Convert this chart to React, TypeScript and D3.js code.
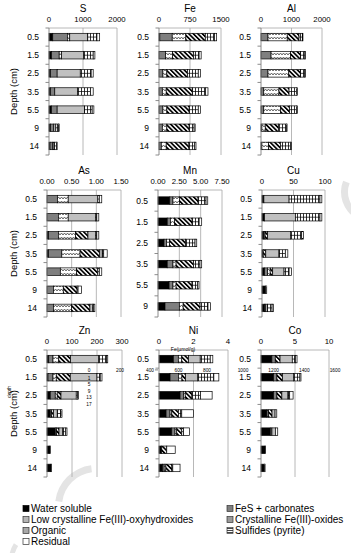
import { useEffect, useRef } from 'react';
import * as d3 from 'd3';

// Depth categories (cm)
const depths = ['0.5', '1.5', '2.5', '3.5', '5.5', '9', '14'];
const mnDepths = ['0.5', '1.5', '2.5', '3.5', '5.5', '9'];

// Fractions, in stacking order
const fractions = [
    'Water soluble',
    'FeS + carbonates',
    'Low crystalline Fe(III)-oxyhydroxides',
    'Crystalline Fe(III)-oxides',
    'Organic',
    'Sulfides (pyrite)',
    'Residual',
];

// Values per depth: [water, FeS, low cryst, cryst, organic, sulfides, residual]
const sValues = [
    [110, 430, 70, 0, 530, 270, 80],
    [70, 230, 70, 0, 650, 280, 50],
    [40, 200, 0, 0, 680, 320, 60],
    [40, 130, 0, 0, 670, 380, 80],
    [70, 170, 0, 0, 800, 230, 50],
    [40, 100, 0, 0, 60, 80, 20],
    [30, 80, 0, 0, 40, 70, 20],
];
const feValues = [
    [20, 300, 330, 470, 0, 220, 55],
    [0, 160, 170, 510, 0, 130, 50],
    [0, 95, 95, 500, 0, 260, 55],
    [0, 80, 95, 630, 0, 320, 60],
    [0, 95, 95, 540, 0, 220, 55],
    [0, 80, 110, 540, 0, 120, 25],
    [0, 55, 120, 550, 0, 140, 30],
];
const alValues = [
    [0, 230, 630, 385, 0, 110, 20],
    [0, 330, 640, 330, 0, 140, 20],
    [0, 230, 680, 385, 0, 140, 20],
    [0, 90, 500, 330, 0, 240, 40],
    [0, 90, 550, 300, 0, 220, 40],
    [0, 30, 110, 440, 0, 250, 25],
    [0, 30, 220, 385, 0, 330, 30],
];
const asValues = [
    [0, 0.21, 0.22, 0, 0.6, 0.03, 0.05],
    [0, 0.23, 0.2, 0, 0.55, 0.03, 0.04],
    [0.03, 0.2, 0.35, 0.25, 0.15, 0.03, 0.04],
    [0.03, 0.27, 0.37, 0.4, 0.05, 0.03, 0.07],
    [0, 0.27, 0.33, 0.43, 0, 0.03, 0.05],
    [0, 0.13, 0.2, 0.28, 0, 0.02, 0.07],
    [0, 0.13, 0.37, 0.37, 0.05, 0.02, 0.03],
];
const mnValues = [
    [1.38, 0.37, 0.75, 2.2, 0, 0.93, 0.2],
    [1.08, 0.37, 0.5, 2.05, 0, 0.82, 0.3],
    [0.7, 0.3, 0.37, 1.87, 0, 1.1, 0.2],
    [1.08, 0.67, 0.37, 2.05, 0, 0.75, 0.2],
    [1.3, 0.45, 0.37, 1.87, 0, 0.67, 0.15],
    [0.82, 1.68, 0.45, 1.98, 0, 0.93, 0.3],
];
const cuValues = [
    [3, 0, 0, 0, 40, 49, 3],
    [4, 0, 0, 0, 49, 39, 3],
    [3, 2, 0, 4, 36, 18, 3],
    [2, 0, 0, 4, 21, 10, 4],
    [4, 5, 4, 4, 18, 8, 4],
    [6, 0, 0, 0, 0, 0, 1.5],
    [4, 2, 0, 0, 3, 7, 2],
];
const znValues = [
    [7, 17, 23, 47, 113, 31, 5],
    [4, 20, 13, 56, 107, 13, 7],
    [13, 20, 8, 15, 61, 5, 4],
    [13, 5, 0, 8, 15, 15, 4],
    [33, 5, 0, 10, 15, 12, 5],
    [12, 0, 0, 0, 0, 0, 1],
    [16, 0, 0, 0, 0, 0, 2],
];
const niValues = [
    [0.83, 0.29, 0.2, 0.39, 0.68, 0.58, 0.15],
    [0.64, 0.49, 0.2, 0.2, 0.72, 0.93, 0.29],
    [1.22, 0.2, 0.1, 0.39, 0, 0.49, 0.68],
    [0.41, 0.23, 0.1, 0.39, 0, 0.19, 0.68],
    [0.74, 0.19, 0.1, 0.29, 0, 0.1, 0.35],
    [0.16, 0, 0, 0.29, 0, 0, 0.49],
    [0.2, 0.1, 0.1, 0.35, 0, 0.05, 0.42],
];
const coValues = [
    [1.6, 0.5, 0, 0.7, 1.8, 0.45, 0.25],
    [1.84, 0.5, 0, 0.82, 1.6, 0.97, 0.15],
    [1.84, 0.5, 0, 0.73, 0.9, 0.25, 0.5],
    [0.87, 0.25, 0, 0.5, 0.45, 0, 0.25],
    [1.36, 0.25, 0, 0, 0.5, 0, 0.35],
    [0.6, 0, 0, 0, 0, 0, 0.05],
    [0.5, 0, 0, 0, 0, 0, 0.1],
];

// Axis ticks
const sTicks = [0, 1000, 2000];
const feTicks = [0, 750, 1500];
const alTicks = [0, 1000, 2000];
const asTicks = [0, 0.5, 1, 1.5];
const mnTicks = [0, 2.5, 5, 7.5];
const cuTicks = [0, 50, 100];
const znTicks = [0, 100, 200, 300];
const niTicks = [0, 2, 4];
const coTicks = [0, 5, 10];

// Stray overlaid axis labels seen in the figure
const strayZnTicks = [0, 200];
const strayFeTicks = [400, 600, 800];
const strayCoTicks = [1000, 1200, 1400, 1600];
const strayDepthTicks = [1, 5, 9, 13, 17];

const FONT = "'Liberation Sans', Arial, sans-serif";

export default function App() {
    const ref = useRef<SVGSVGElement>(null);

    useEffect(() => {
        if (!ref.current) return;
        const svg = d3.select(ref.current);
        svg.selectAll('*').remove();

        const defs = svg.append('defs');

        // zigzag (low crystalline)
        const zig = defs.append('pattern').attr('id', 'zig')
            .attr('patternUnits', 'userSpaceOnUse').attr('width', 6).attr('height', 4);
        zig.append('rect').attr('width', 6).attr('height', 4).attr('fill', '#fff');
        zig.append('path').attr('d', 'M0,3 L1.5,1 L3,3 L4.5,1 L6,3')
            .attr('fill', 'none').attr('stroke', '#555').attr('stroke-width', 0.9);

        // diagonal stripes (crystalline)
        const diag = defs.append('pattern').attr('id', 'diag')
            .attr('patternUnits', 'userSpaceOnUse').attr('width', 3.2).attr('height', 3.2)
            .attr('patternTransform', 'rotate(-45)');
        diag.append('rect').attr('width', 3.2).attr('height', 3.2).attr('fill', '#fff');
        diag.append('rect').attr('width', 1.7).attr('height', 3.2).attr('fill', '#000');

        // vertical lines (sulfides)
        const grid = defs.append('pattern').attr('id', 'grid')
            .attr('patternUnits', 'userSpaceOnUse').attr('width', 3).attr('height', 3);
        grid.append('rect').attr('width', 3).attr('height', 3).attr('fill', '#fff');
        grid.append('rect').attr('width', 0.8).attr('height', 3).attr('fill', '#000');

        // horizontal lines (legend sulfides)
        const hl = defs.append('pattern').attr('id', 'hlines')
            .attr('patternUnits', 'userSpaceOnUse').attr('width', 2).attr('height', 2);
        hl.append('rect').attr('width', 2).attr('height', 2).attr('fill', '#fff');
        hl.append('rect').attr('width', 2).attr('height', 0.9).attr('fill', '#333');

        const fills = ['#000', '#7f7f7f', 'url(#zig)', 'url(#diag)', '#c0c0c0', 'url(#grid)', '#fff'];

        svg.append('rect').attr('width', 351).attr('height', 553).attr('fill', '#fff');

        // faint watermark swirls
        const arc = d3.arc<any>();
        const wm = svg.append('g').attr('fill', '#e4e4e4');
        wm.append('path').attr('transform', 'translate(96,506)')
            .attr('d', arc({ innerRadius: 34, outerRadius: 41, startAngle: -1.45, endAngle: -0.12 }) as string);
        wm.append('path').attr('transform', 'translate(372,192)')
            .attr('d', arc({ innerRadius: 24, outerRadius: 31, startAngle: -2.6, endAngle: -1.2 }) as string);
        wm.append('path').attr('transform', 'translate(40,560)')
            .attr('d', arc({ innerRadius: 26, outerRadius: 31, startAngle: -1.6, endAngle: -1.0 }) as string);

        const rowTops = [28, 190, 350];
        const plotH = 127;
        const barH = 7.5;

        const panels = [
            { title: 'S', values: sValues, cats: depths, ticks: sTicks, fmt: 'd', x: [49, 117], row: 0, first: true },
            { title: 'Fe', values: feValues, cats: depths, ticks: feTicks, fmt: 'd', x: [159, 221], row: 0 },
            { title: 'Al', values: alValues, cats: depths, ticks: alTicks, fmt: 'd', x: [261, 322], row: 0 },
            { title: 'As', values: asValues, cats: depths, ticks: asTicks, fmt: '.2f', x: [47, 121], row: 1, first: true },
            { title: 'Mn', values: mnValues, cats: mnDepths, ticks: mnTicks, fmt: '.2f', x: [158, 222], row: 1 },
            { title: 'Cu', values: cuValues, cats: depths, ticks: cuTicks, fmt: 'd', x: [262, 325], row: 1 },
            { title: 'Zn', values: znValues, cats: depths, ticks: znTicks, fmt: 'd', x: [47, 122], row: 2, first: true },
            { title: 'Ni', values: niValues, cats: depths, ticks: niTicks, fmt: 'd', x: [159, 228], row: 2 },
            { title: 'Co', values: coValues, cats: depths, ticks: coTicks, fmt: 'd', x: [261, 329], row: 2 },
        ];

        panels.forEach(p => {
            const top = rowTops[p.row];
            const bottom = top + plotH;
            const x = d3.scaleLinear()
                .domain([p.ticks[0], p.ticks[p.ticks.length - 1]])
                .range(p.x);
            const y = d3.scaleBand<string>().domain(p.cats).range([top, bottom]);
            const fmt = d3.format(p.fmt);
            const g = svg.append('g');

            // gridlines
            g.selectAll('line.grid').data(p.ticks.slice(1)).enter().append('line')
                .attr('x1', d => x(d)).attr('x2', d => x(d))
                .attr('y1', top).attr('y2', bottom)
                .attr('stroke', '#a6a6a6').attr('stroke-width', 0.8);
            // top axis line
            g.append('line').attr('x1', p.x[0]).attr('x2', p.x[1])
                .attr('y1', top).attr('y2', top)
                .attr('stroke', '#a6a6a6').attr('stroke-width', 0.8);

            // tick labels
            g.selectAll('text.tick').data(p.ticks).enter().append('text')
                .attr('x', d => x(d)).attr('y', top - 6)
                .attr('text-anchor', 'middle')
                .attr('font-family', FONT).attr('font-size', 7.8).attr('fill', '#000')
                .text(d => fmt(d));

            // title
            g.append('text').attr('x', (p.x[0] + p.x[1]) / 2).attr('y', top - 16.5)
                .attr('text-anchor', 'middle')
                .attr('font-family', FONT).attr('font-size', 10).attr('fill', '#000')
                .text(p.title);

            // stacked bars
            const rows = p.values.map((v, i) => {
                const o: any = { depth: p.cats[i] };
                fractions.forEach((f, j) => (o[f] = v[j]));
                return o;
            });
            const series = d3.stack<any>().keys(fractions)(rows);
            series.forEach((s, j) => {
                s.forEach(d => {
                    if (d[1] - d[0] <= 0) return;
                    const yc = (y(d.data.depth) as number) + y.bandwidth() / 2;
                    const x0 = x(d[0]);
                    const w = x(d[1]) - x0;
                    g.append('rect')
                        .attr('x', x0).attr('y', yc - barH / 2)
                        .attr('width', w).attr('height', barH)
                        .attr('fill', fills[j])
                        .attr('stroke', '#000').attr('stroke-width', 0.7);
                    if (j === 5) {
                        g.append('line').attr('x1', x0).attr('x2', x0 + w)
                            .attr('y1', yc).attr('y2', yc)
                            .attr('stroke', '#000').attr('stroke-width', 0.7);
                    }
                });
            });

            // left axis with ticks at band edges
            g.append('line').attr('x1', p.x[0]).attr('x2', p.x[0])
                .attr('y1', top).attr('y2', bottom)
                .attr('stroke', '#7f7f7f').attr('stroke-width', 0.9);
            const edges = p.cats.map(c => y(c) as number).concat([bottom]);
            g.selectAll('line.ytick').data(edges).enter().append('line')
                .attr('x1', p.x[0] - 3.5).attr('x2', p.x[0])
                .attr('y1', d => d).attr('y2', d => d)
                .attr('stroke', '#7f7f7f').attr('stroke-width', 0.9);

            // category labels
            g.selectAll('text.cat').data(p.cats).enter().append('text')
                .attr('x', p.x[0] - 10)
                .attr('y', d => (y(d) as number) + y.bandwidth() / 2 + 3)
                .attr('text-anchor', 'end')
                .attr('font-family', FONT).attr('font-size', 8.5).attr('fill', '#000')
                .text(d => d);

            if (p.first) {
                g.append('text')
                    .attr('transform', `translate(17,${(top + bottom) / 2}) rotate(-90)`)
                    .attr('text-anchor', 'middle')
                    .attr('font-family', FONT).attr('font-size', 9.5).attr('fill', '#000')
                    .text('Depth (cm)');
            }
        });

        // stray overlaid axes
        const stray = svg.append('g').attr('font-family', FONT).attr('font-size', 4.8).attr('fill', '#000');
        const sx1 = d3.scaleLinear().domain([0, 200]).range([89, 120]);
        const sx2 = d3.scaleLinear().domain([400, 800]).range([150, 207]);
        const sx3 = d3.scaleLinear().domain([1000, 1600]).range([243, 335]);
        const sy = d3.scaleLinear().domain([1, 17]).range([378, 404]);
        const strayY = 371.5;
        [[strayZnTicks, sx1], [strayFeTicks, sx2], [strayCoTicks, sx3]].forEach(([ticks, sc]: any) => {
            stray.selectAll(null).data(ticks as number[]).enter().append('text')
                .attr('x', d => sc(d)).attr('y', strayY).attr('text-anchor', 'middle')
                .text(d => String(d));
        });
        stray.append('line').attr('x1', sx2(400) + 5).attr('x2', sx2(400) + 8)
            .attr('y1', strayY - 1.6).attr('y2', strayY - 1.6).attr('stroke', '#000').attr('stroke-width', 0.5);
        stray.selectAll(null).data(strayDepthTicks).enter().append('text')
            .attr('x', 89).attr('y', d => sy(d) + 1.6).attr('text-anchor', 'middle')
            .text(d => String(d));
        stray.append('text').attr('x', 183).attr('y', 350.5).attr('text-anchor', 'middle')
            .attr('font-size', 5).text('Fe(µmol/g)');
        stray.append('text').attr('transform', 'translate(11,392) rotate(-90)')
            .attr('text-anchor', 'middle').text('depth');

        // legend
        const legendFills = ['#000', '#7f7f7f', '#b4b4b4', '#9a9a9a', '#a8a8a8', 'url(#hlines)', '#fff'];
        const legendPos = [
            [23, 509], [227, 509],
            [23, 520], [227, 520],
            [23, 531], [227, 531],
            [23, 542],
        ];
        const lg = svg.append('g');
        fractions.forEach((f, i) => {
            const [lx, ly] = legendPos[i];
            lg.append('rect').attr('x', lx).attr('y', ly - 3.5).attr('width', 6).attr('height', 6)
                .attr('fill', legendFills[i]).attr('stroke', i === 0 ? '#000' : '#333').attr('stroke-width', 0.7);
            lg.append('text').attr('x', lx + 8).attr('y', ly + 3)
                .attr('font-family', FONT).attr('font-size', 10).attr('fill', '#000')
                .text(f);
        });
    }, []);

    return (
        <svg ref={ref} width={351} height={553}
            style={{ position: 'absolute', left: 0, top: 0, display: 'block' }} />
    );
}
